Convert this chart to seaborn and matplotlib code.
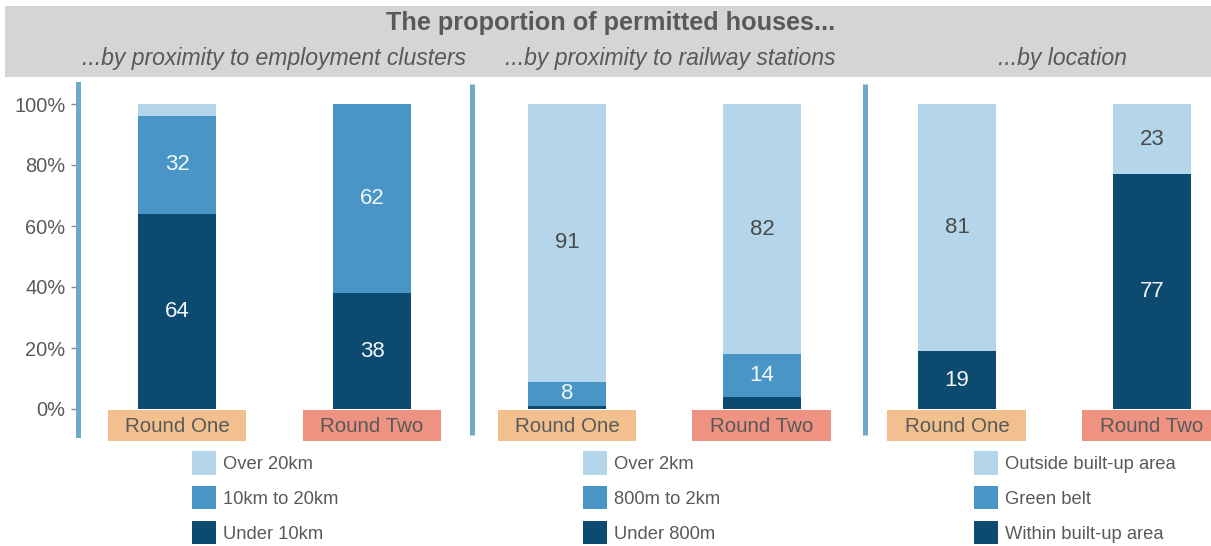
import matplotlib
matplotlib.use("Agg")
import matplotlib.pyplot as plt
from matplotlib.patches import Rectangle, Patch
import pandas as pd
import seaborn as sns

# ---- data -------------------------------------------------------------
title = "The proportion of permitted houses..."
panel_titles = [
    "...by proximity to employment clusters",
    "...by proximity to railway stations",
    "...by location",
]
rounds = ["Round One", "Round Two"]
bar_ids = ["emp_r1", "emp_r2", "rail_r1", "rail_r2", "loc_r1", "loc_r2"]

# bottom / middle / top segments of each stacked bar (percent)
bottom_vals = [64, 38, 1, 4, 19, 77]
middle_vals = [32, 62, 8, 14, 0, 0]
top_vals = [4, 0, 91, 82, 81, 23]

legend_labels = [
    ["Over 20km", "10km to 20km", "Under 10km"],
    ["Over 2km", "800m to 2km", "Under 800m"],
    ["Outside built-up area", "Green belt", "Within built-up area"],
]
y_ticks = [0, 20, 40, 60, 80, 100]

# ---- style ------------------------------------------------------------
sns.set_theme(style="white")
plt.rcParams["font.family"] = ["Liberation Sans", "DejaVu Sans"]

C_LIGHT = "#b5d6ea"
C_MID = "#4996c6"
C_DARK = "#0c4a70"
C_RULE = "#6eaac7"
C_TEXT = "#595959"
C_R1 = "#f2c08e"
C_R2 = "#ee9282"
C_BAND = "#d4d5d6"

W, H = 1211, 546
fig = plt.figure(figsize=(W / 100, H / 100), dpi=100)
ax = fig.add_axes([78 / W, (H - 409) / H, 1 - 78 / W, 305 / H])

df = pd.DataFrame({
    "bar": bar_ids,
    "bottom": bottom_vals,
    "middle": middle_vals,
    "top": top_vals,
})
df["cum_mid"] = df["bottom"] + df["middle"]
df["cum_top"] = df["cum_mid"] + df["top"]

# stacked bars: draw cumulative totals from the tallest layer down
for col, colour in [("cum_top", C_LIGHT), ("cum_mid", C_MID), ("bottom", C_DARK)]:
    sns.barplot(data=df, x="bar", y=col, order=bar_ids, color=colour,
                saturation=1, width=0.4, ax=ax, errorbar=None,
                linewidth=0, edgecolor="none")

# value labels at segment centres
for i, row in df.iterrows():
    segs = [
        (row["bottom"], row["bottom"] / 2, "#f2f6f9"),
        (row["middle"], row["bottom"] + row["middle"] / 2, "#f2f6f9"),
        (row["top"], row["cum_mid"] + row["top"] / 2, "#4a4a4a"),
    ]
    for v, yc, tc in segs:
        if v >= 5:
            ax.text(i, yc, f"{v}", ha="center", va="center",
                    fontsize=16, color=tc)

ax.set_xlim(-0.5077, 5.3026)
ax.set_ylim(0, 100)
ax.set_xlabel("")
ax.set_ylabel("")
ax.set_xticks([])
ax.set_yticks(y_ticks)
ax.set_yticklabels([f"{t}%" for t in y_ticks])
ax.tick_params(axis="y", left=True, length=5, width=1, color="#8c8c8c",
               labelsize=14.4, labelcolor=C_TEXT, pad=4)

for s in ["top", "right", "bottom"]:
    ax.spines[s].set_visible(False)
ax.spines["left"].set_color(C_RULE)
ax.spines["left"].set_linewidth(3.6)
ax.spines["left"].set_bounds(-8.5, 106.6)

# separators between the three groups
for xs in [1.515, 3.528]:
    ax.axvline(xs, ymin=-0.085, ymax=1.066, color=C_RULE, lw=3.6,
               clip_on=False, solid_capstyle="butt")

# round labels in coloured boxes under each bar
xt = ax.get_xaxis_transform()
for i in range(len(bar_ids)):
    lab = rounds[i % 2]
    fc = C_R1 if i % 2 == 0 else C_R2
    ax.add_patch(Rectangle((i - 0.3564, -0.1049), 0.7128, 0.1016,
                           transform=xt, clip_on=False, facecolor=fc,
                           edgecolor="none"))
    ax.text(i, -0.056, lab, transform=xt, ha="center", va="center",
            fontsize=14.8, color=C_TEXT, clip_on=False)

# header band with titles
fig.patches.append(Rectangle((5 / W, 1 - 77 / H), 1 - 5 / W, 71 / H,
                             transform=fig.transFigure, facecolor=C_BAND,
                             edgecolor="none", zorder=0))
fig.text(611 / W, 1 - 23 / H, title, ha="center", va="center",
         fontsize=18.2, fontweight="bold", color=C_TEXT)
for xc, t in zip([274.5, 670, 1062], panel_titles):
    fig.text(xc / W, 1 - 58 / H, t, ha="center", va="center",
             fontsize=16.6, style="italic", color=C_TEXT)

# one legend per group
for lx, labels in zip([192, 583, 974], legend_labels):
    handles = [Patch(facecolor=c, edgecolor="none")
               for c in [C_LIGHT, C_MID, C_DARK]]
    fig.legend(handles, labels, loc="upper left",
               bbox_to_anchor=(lx / W, 1 - 451 / H), frameon=False,
               fontsize=13.2, labelcolor=C_TEXT, handlelength=1.31,
               handleheight=1.6, handletextpad=0.38, labelspacing=0.62,
               borderpad=0, borderaxespad=0)

fig.savefig("out.png", dpi=100)
